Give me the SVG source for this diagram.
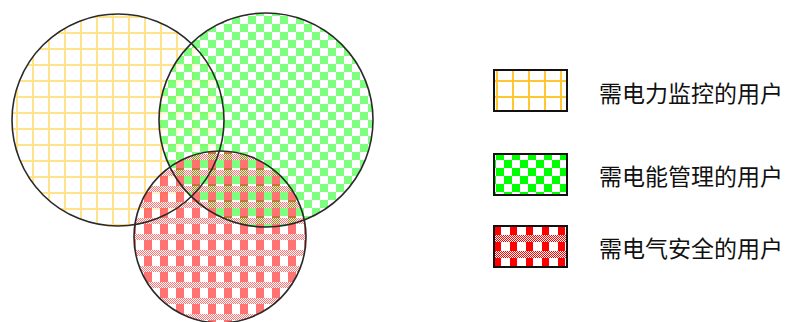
<svg xmlns="http://www.w3.org/2000/svg" width="792" height="322" viewBox="0 0 792 322">
<style>
.outline{fill:none;stroke:#2a2a2a;stroke-width:1.6}
.box{stroke:#111;stroke-width:2}
.lbl{font-family:"Noto Sans CJK SC","Noto Sans",sans-serif;font-size:23px;fill:#111;dominant-baseline:central}
</style>
<defs>
<pattern id="dots" width="2" height="2" patternUnits="userSpaceOnUse">
<rect width="2" height="2" fill="#fff"/>
<rect width="1" height="1" fill="#ff0000"/>
<rect x="1" y="1" width="1" height="1" fill="#ff0000"/>
</pattern>
<pattern id="grid" width="16" height="16" patternUnits="userSpaceOnUse">
<rect width="16" height="16" fill="#fff"/>
<rect x="0" y="0" width="2" height="16" fill="#ffc830"/>
<rect x="0" y="0" width="16" height="2" fill="#ffc830"/>
</pattern>
<pattern id="gridL" width="16" height="16" patternUnits="userSpaceOnUse">
<rect width="16" height="16" fill="#fff"/>
<rect x="0" y="0" width="2" height="16" fill="#ffe38a"/>
<rect x="0" y="0" width="16" height="2" fill="#ffe38a"/>
</pattern>
<pattern id="check" width="16" height="16" patternUnits="userSpaceOnUse">
<rect x="8" y="0" width="8" height="8" fill="#00ff00"/>
<rect x="0" y="8" width="8" height="8" fill="#00ff00"/>
</pattern>
<pattern id="checkW" width="16" height="16" patternUnits="userSpaceOnUse">
<rect width="16" height="16" fill="#fff"/>
<rect x="8" y="0" width="8" height="8" fill="#00ff00"/>
<rect x="0" y="8" width="8" height="8" fill="#00ff00"/>
</pattern>
<pattern id="plaid" width="16" height="16" patternUnits="userSpaceOnUse">
<rect x="0" y="0" width="8" height="10" fill="#ff0000"/>
<rect x="0" y="10" width="16" height="6" fill="url(#dots)"/>
</pattern>
<pattern id="plaidW" width="16" height="16" patternUnits="userSpaceOnUse" x="494" y="226">
<rect width="16" height="16" fill="#fff"/>
<rect x="0" y="0" width="7" height="9" fill="#ff0000"/>
<rect x="0" y="9" width="16" height="7" fill="url(#dots)"/>
</pattern>
</defs>

<g id="venn-fills">
<circle cx="118" cy="120" r="106" fill="url(#gridL)"/>
<circle cx="266" cy="120" r="107" fill="#fff" fill-opacity="0.6"/>
<circle cx="220" cy="237" r="86" fill="#fff" fill-opacity="0.6"/>
<circle cx="266" cy="120" r="107" fill="url(#check)" fill-opacity="0.5"/>
<circle cx="220" cy="237" r="86" fill="url(#plaid)" fill-opacity="0.55"/>
</g>
<g id="circle-power-monitoring">
<circle class="outline" cx="118" cy="120" r="106"/>
</g>
<g id="circle-energy-management">
<circle class="outline" cx="266" cy="120" r="107"/>
</g>
<g id="circle-electrical-safety">
<circle class="outline" cx="220" cy="237" r="86"/>
</g>

<g id="legend-power-monitoring">
<rect class="box" x="494" y="70" width="73" height="41" fill="url(#grid)"/>
<text class="lbl" x="599" y="92">需电力监控的用户</text>
</g>
<g id="legend-energy-management">
<rect class="box" x="494" y="154" width="73" height="41" fill="url(#checkW)"/>
<text class="lbl" x="599" y="175">需电能管理的用户</text>
</g>
<g id="legend-electrical-safety">
<rect class="box" x="494" y="226" width="73" height="41" fill="url(#plaidW)"/>
<text class="lbl" x="599" y="247">需电气安全的用户</text>
</g>
<g id="connectors"/>
</svg>
